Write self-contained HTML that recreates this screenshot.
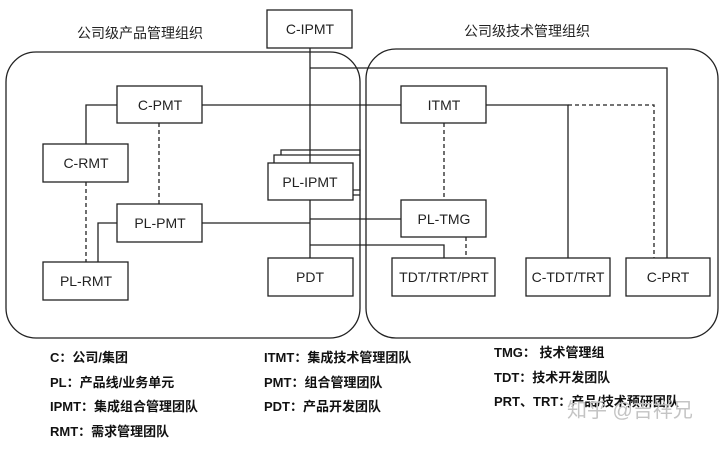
<!DOCTYPE html>
<html><head><meta charset="utf-8"><style>
body{margin:0;background:#fff;}
svg text{font-family:"Liberation Sans","Noto Sans CJK SC",sans-serif;}
</style></head><body>
<svg width="720" height="445" viewBox="0 0 720 445" xmlns="http://www.w3.org/2000/svg">
<g fill="none" stroke="#222" stroke-width="1.3">
<rect x="6" y="52" width="354" height="286" rx="30"/>
<rect x="366" y="49" width="352" height="289" rx="30"/>
<path d="M310 48 V258 M310 68 H667 V258 M202 105 H401 M117 105 H86 V144 M117 223 H98 V262 M202 223 H310 M310 219 H401 M310 245 H444 V258 M486 105 H568 V258"/>
<path d="M281 155 V150 H360 V190 H353 M274 163 V155 H360 M353 195 H360"/>
</g>
<g fill="none" stroke="#222" stroke-width="1.3" stroke-dasharray="4,3">
<path d="M159 123 V204 M86 182 V262 M444 123 V200 M466 237 V258 M568 105 H654 V258"/>
</g>
<g fill="#fff" stroke="#222" stroke-width="1.3">
<rect x="267" y="10" width="85" height="38"/>
<rect x="117" y="86" width="85" height="37"/>
<rect x="43" y="144" width="85" height="38"/>
<rect x="117" y="204" width="85" height="38"/>
<rect x="43" y="262" width="85" height="38"/>
<rect x="268" y="163" width="85" height="37"/>
<rect x="268" y="258" width="85" height="38"/>
<rect x="401" y="86" width="85" height="37"/>
<rect x="401" y="200" width="85" height="37"/>
<rect x="392" y="258" width="103" height="38"/>
<rect x="526" y="258" width="84" height="38"/>
<rect x="626" y="258" width="84" height="38"/>
</g>
<g font-size="14" fill="#222" text-anchor="middle">
<text x="310" y="34">C-IPMT</text>
<text x="160" y="110">C-PMT</text>
<text x="86" y="168">C-RMT</text>
<text x="160" y="228">PL-PMT</text>
<text x="86" y="286">PL-RMT</text>
<text x="310" y="187">PL-IPMT</text>
<text x="310" y="282">PDT</text>
<text x="444" y="110">ITMT</text>
<text x="444" y="224">PL-TMG</text>
<text x="444" y="282">TDT/TRT/PRT</text>
<text x="568" y="282">C-TDT/TRT</text>
<text x="668" y="282">C-PRT</text>
<text x="140" y="38">公司级产品管理组织</text>
<text x="527" y="36">公司级技术管理组织</text>
</g>
<g font-size="13" fill="#111" font-weight="bold">
<text x="50" y="362">C：公司/集团</text>
<text x="50" y="387">PL：产品线/业务单元</text>
<text x="50" y="411">IPMT：集成组合管理团队</text>
<text x="50" y="436">RMT：需求管理团队</text>
<text x="264" y="362">ITMT：集成技术管理团队</text>
<text x="264" y="387">PMT：组合管理团队</text>
<text x="264" y="411">PDT：产品开发团队</text>
<text x="494" y="357">TMG： 技术管理组</text>
<text x="494" y="382">TDT：技术开发团队</text>
<text x="494" y="406">PRT、TRT：产品/技术预研团队</text>
</g>
<text x="567" y="417" font-size="20" fill="#c4c4c4">知乎 @吉祥兄</text>
</svg>
</body></html>
